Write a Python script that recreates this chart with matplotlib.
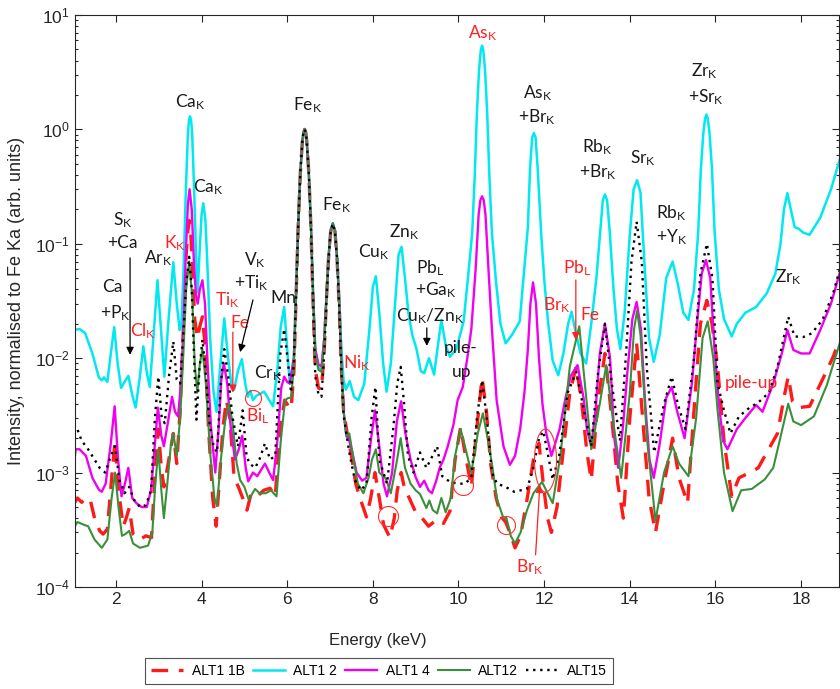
import numpy as np
import matplotlib
matplotlib.use('Agg')
import matplotlib.pyplot as plt

plt.rcParams['font.family'] = ['Liberation Sans', 'DejaVu Sans']

# spectra: (energy keV, intensity normalised to Fe Ka)
alt1_1b = [(1.00,0.00052),(1.10,0.0006),(1.20,0.00055),(1.30,0.0006),(1.40,0.00058),(1.50,0.0004),(1.62,0.00031),(1.70,0.00029),(1.80,0.00032),(1.90,0.0009),(1.98,0.0019),(2.06,0.0007),(2.17,0.00034),(2.24,0.0004),(2.31,0.00049),(2.40,0.00029),(2.56,0.00026),(2.70,0.00028),(2.83,0.00027),(2.92,0.0011),(2.99,0.0024),(3.06,0.0011),(3.12,0.00075),(3.22,0.0012),(3.34,0.0022),(3.42,0.0012),(3.50,0.0035),(3.57,0.017),(3.64,0.08),(3.68,0.13),(3.71,0.16),(3.745,0.13),(3.78,0.07),(3.84,0.022),(3.90,0.015),(3.96,0.019),(4.02,0.023),(4.09,0.012),(4.16,0.0025),(4.26,0.0006),(4.34,0.00034),(4.42,0.0009),(4.50,0.0025),(4.58,0.0043),(4.66,0.003),(4.76,0.0009),(4.86,0.00075),(4.96,0.0006),(5.06,0.00047),(5.16,0.00066),(5.30,0.00062),(5.45,0.0007),(5.60,0.00073),(5.72,0.00062),(5.84,0.0025),(5.94,0.0043),(6.03,0.0038),(6.09,0.0036),(6.155,0.0075),(6.205,0.032),(6.255,0.14),(6.305,0.41),(6.355,0.8),(6.38,0.95),(6.405,1.0),(6.43,0.95),(6.455,0.8),(6.505,0.41),(6.555,0.135),(6.605,0.03),(6.655,0.008),(6.73,0.0055),(6.80,0.0053),(6.865,0.012),(6.915,0.032),(6.965,0.075),(7.015,0.128),(7.065,0.15),(7.115,0.128),(7.165,0.072),(7.215,0.028),(7.265,0.008),(7.315,0.0035),(7.40,0.0022),(7.50,0.0014),(7.60,0.0008),(7.72,0.00057),(7.85,0.00041),(7.95,0.0006),(8.05,0.001),(8.15,0.0006),(8.25,0.00035),(8.40,0.00027),(8.50,0.0004),(8.57,0.0007),(8.66,0.001),(8.75,0.0007),(8.85,0.0006),(9.00,0.00045),(9.15,0.0004),(9.30,0.00034),(9.50,0.00039),(9.65,0.00036),(9.80,0.00046),(9.92,0.0013),(10.05,0.0025),(10.15,0.0015),(10.30,0.00075),(10.43,0.0025),(10.55,0.0067),(10.65,0.0035),(10.75,0.0012),(10.88,0.0006),(11.00,0.00041),(11.10,0.00037),(11.20,0.0003),(11.32,0.00022),(11.45,0.00028),(11.60,0.00058),(11.75,0.0013),(11.88,0.0018),(11.98,0.0008),(12.08,0.0004),(12.17,0.0003),(12.30,0.0005),(12.45,0.0016),(12.60,0.005),(12.75,0.0085),(12.88,0.004),(13.00,0.0015),(13.10,0.00086),(13.25,0.004),(13.42,0.011),(13.58,0.003),(13.72,0.0008),(13.85,0.0004),(14.00,0.003),(14.16,0.0135),(14.30,0.003),(14.45,0.0006),(14.60,0.0003),(14.80,0.0008),(15.00,0.002),(15.15,0.0009),(15.35,0.00054),(15.50,0.0035),(15.65,0.02),(15.80,0.032),(15.92,0.02),(16.05,0.0085),(16.20,0.0019),(16.38,0.00062),(16.55,0.0009),(16.80,0.001),(17.00,0.0011),(17.20,0.0015),(17.45,0.0022),(17.60,0.0045),(17.70,0.0069),(17.80,0.0042),(17.95,0.0037),(18.20,0.0038),(18.50,0.0065),(18.75,0.0103),(18.90,0.0145)]

alt1_2 = [(1.00,0.0176),(1.15,0.018),(1.28,0.0166),(1.45,0.011),(1.60,0.0068),(1.67,0.0064),(1.72,0.0068),(1.80,0.0062),(1.88,0.011),(1.96,0.0187),(2.04,0.009),(2.12,0.0055),(2.20,0.0062),(2.29,0.0070),(2.38,0.0048),(2.46,0.0037),(2.55,0.0065),(2.64,0.0127),(2.72,0.0075),(2.79,0.0056),(2.88,0.016),(2.97,0.048),(3.05,0.018),(3.13,0.0069),(3.23,0.022),(3.34,0.069),(3.42,0.03),(3.49,0.0176),(3.53,0.02),(3.58,0.06),(3.63,0.27),(3.68,0.92),(3.705,1.2),(3.73,1.3),(3.755,1.2),(3.78,0.92),(3.83,0.27),(3.87,0.08),(3.91,0.038),(3.95,0.08),(4.00,0.18),(4.04,0.226),(4.09,0.16),(4.14,0.06),(4.20,0.015),(4.28,0.005),(4.35,0.0034),(4.44,0.009),(4.53,0.0223),(4.62,0.01),(4.70,0.0058),(4.76,0.0053),(4.85,0.0078),(4.94,0.0098),(5.02,0.006),(5.08,0.0046),(5.14,0.0052),(5.20,0.0043),(5.28,0.0047),(5.38,0.0049),(5.46,0.0051),(5.58,0.0043),(5.67,0.0038),(5.77,0.008),(5.85,0.019),(5.93,0.028),(6.00,0.012),(6.06,0.006),(6.155,0.01),(6.205,0.035),(6.255,0.14),(6.305,0.41),(6.355,0.8),(6.38,0.95),(6.405,1.0),(6.43,0.95),(6.455,0.8),(6.505,0.41),(6.555,0.14),(6.605,0.036),(6.655,0.012),(6.73,0.0082),(6.80,0.0079),(6.865,0.0145),(6.915,0.034),(6.965,0.077),(7.015,0.13),(7.065,0.151),(7.115,0.13),(7.165,0.075),(7.215,0.032),(7.265,0.012),(7.315,0.0065),(7.37,0.0053),(7.46,0.0063),(7.56,0.0046),(7.66,0.0043),(7.80,0.006),(7.92,0.018),(8.00,0.042),(8.07,0.052),(8.15,0.025),(8.24,0.009),(8.32,0.0051),(8.42,0.009),(8.52,0.03),(8.60,0.08),(8.67,0.094),(8.75,0.05),(8.83,0.025),(8.92,0.016),(9.02,0.012),(9.12,0.0077),(9.20,0.0074),(9.31,0.0100),(9.43,0.0072),(9.52,0.013),(9.60,0.0216),(9.70,0.013),(9.80,0.0103),(9.95,0.012),(10.12,0.021),(10.22,0.05),(10.32,0.124),(10.38,0.4),(10.43,1.4),(10.48,3.3),(10.52,4.9),(10.55,5.4),(10.58,4.9),(10.62,3.3),(10.67,1.4),(10.72,0.4),(10.78,0.124),(10.88,0.045),(10.98,0.02),(11.10,0.0135),(11.25,0.016),(11.43,0.021),(11.55,0.07),(11.62,0.14),(11.67,0.45),(11.72,0.85),(11.76,0.93),(11.80,0.85),(11.85,0.45),(11.93,0.124),(12.00,0.05),(12.09,0.021),(12.20,0.0095),(12.33,0.0071),(12.45,0.011),(12.56,0.02),(12.64,0.0255),(12.72,0.018),(12.85,0.011),(12.98,0.009),(13.10,0.02),(13.22,0.05),(13.31,0.13),(13.37,0.24),(13.42,0.27),(13.47,0.24),(13.53,0.13),(13.62,0.04),(13.70,0.018),(13.78,0.012),(13.88,0.025),(14.00,0.12),(14.09,0.3),(14.17,0.36),(14.25,0.28),(14.35,0.06),(14.45,0.015),(14.56,0.0093),(14.70,0.016),(14.85,0.05),(15.00,0.07),(15.12,0.045),(15.25,0.025),(15.37,0.0216),(15.50,0.04),(15.60,0.13),(15.66,0.45),(15.72,0.95),(15.76,1.25),(15.79,1.35),(15.82,1.25),(15.86,0.95),(15.92,0.45),(15.98,0.13),(16.08,0.04),(16.20,0.022),(16.38,0.0155),(16.50,0.02),(16.70,0.025),(16.95,0.028),(17.20,0.037),(17.40,0.055),(17.52,0.1),(17.60,0.2),(17.68,0.277),(17.76,0.2),(17.85,0.14),(17.95,0.135),(18.05,0.125),(18.20,0.12),(18.45,0.17),(18.70,0.3),(18.90,0.54)]

alt1_4 = [(1.00,0.001),(1.06,0.0016),(1.15,0.0016),(1.30,0.0014),(1.45,0.0009),(1.60,0.00071),(1.67,0.00068),(1.76,0.0008),(1.88,0.0018),(1.97,0.0038),(2.05,0.0013),(2.13,0.00062),(2.21,0.0008),(2.29,0.0011),(2.38,0.0006),(2.48,0.00054),(2.60,0.0005),(2.72,0.0005),(2.82,0.0007),(2.90,0.0016),(2.98,0.0037),(3.06,0.0021),(3.12,0.0017),(3.21,0.0027),(3.31,0.0046),(3.38,0.0034),(3.45,0.0031),(3.52,0.006),(3.58,0.02),(3.63,0.08),(3.68,0.22),(3.72,0.3),(3.77,0.2),(3.82,0.07),(3.87,0.035),(3.91,0.03),(3.96,0.04),(4.02,0.048),(4.08,0.03),(4.14,0.009),(4.22,0.0025),(4.32,0.001),(4.40,0.0025),(4.46,0.0065),(4.52,0.009),(4.60,0.006),(4.68,0.0025),(4.78,0.0013),(4.87,0.0016),(4.95,0.0021),(5.03,0.0011),(5.09,0.00084),(5.20,0.001),(5.30,0.00093),(5.48,0.0012),(5.58,0.001),(5.67,0.00086),(5.76,0.0017),(5.86,0.0055),(5.93,0.0069),(6.00,0.0062),(6.06,0.006),(6.155,0.01),(6.205,0.035),(6.255,0.14),(6.305,0.41),(6.355,0.8),(6.38,0.95),(6.405,1.0),(6.43,0.95),(6.455,0.8),(6.505,0.41),(6.555,0.14),(6.605,0.036),(6.655,0.012),(6.73,0.0088),(6.80,0.0085),(6.865,0.015),(6.915,0.034),(6.965,0.077),(7.015,0.13),(7.065,0.15),(7.115,0.13),(7.165,0.075),(7.215,0.03),(7.265,0.009),(7.315,0.0035),(7.38,0.0021),(7.45,0.0019),(7.52,0.0015),(7.62,0.001),(7.75,0.00085),(7.85,0.0009),(7.96,0.002),(8.05,0.0035),(8.15,0.0017),(8.25,0.0008),(8.33,0.00062),(8.45,0.001),(8.56,0.0028),(8.66,0.0042),(8.76,0.0022),(8.88,0.0013),(9.00,0.00091),(9.10,0.00075),(9.20,0.00085),(9.30,0.0007),(9.38,0.00066),(9.48,0.00085),(9.56,0.0011),(9.65,0.0013),(9.75,0.0017),(9.88,0.0026),(9.98,0.0043),(10.10,0.0056),(10.20,0.0097),(10.30,0.018),(10.40,0.06),(10.47,0.18),(10.51,0.24),(10.55,0.26),(10.59,0.24),(10.63,0.18),(10.70,0.06),(10.78,0.018),(10.89,0.0043),(11.05,0.0017),(11.20,0.00117),(11.32,0.0014),(11.44,0.0024),(11.54,0.005),(11.62,0.012),(11.68,0.03),(11.74,0.046),(11.81,0.03),(11.88,0.01),(11.96,0.004),(12.05,0.0022),(12.17,0.0014),(12.36,0.0024),(12.50,0.0045),(12.62,0.007),(12.78,0.0087),(12.92,0.0045),(13.00,0.0024),(13.10,0.0017),(13.20,0.0035),(13.30,0.011),(13.42,0.02),(13.54,0.01),(13.64,0.002),(13.73,0.0011),(13.84,0.0025),(13.95,0.008),(14.06,0.022),(14.16,0.031),(14.26,0.018),(14.36,0.004),(14.46,0.0013),(14.56,0.0009),(14.70,0.0018),(14.85,0.0045),(14.98,0.0056),(15.10,0.0035),(15.28,0.002),(15.45,0.006),(15.58,0.022),(15.68,0.055),(15.78,0.072),(15.88,0.05),(15.98,0.012),(16.08,0.004),(16.18,0.0019),(16.28,0.0016),(16.50,0.0024),(16.70,0.003),(16.95,0.0039),(17.10,0.0034),(17.35,0.006),(17.55,0.011),(17.68,0.0177),(17.82,0.0118),(18.00,0.011),(18.20,0.011),(18.45,0.0177),(18.70,0.03),(18.90,0.055)]

alt12 = [(1.00,0.00032),(1.10,0.00037),(1.25,0.00035),(1.35,0.00034),(1.50,0.00026),(1.67,0.00022),(1.80,0.00026),(1.90,0.0006),(1.98,0.001),(2.06,0.0005),(2.14,0.00028),(2.22,0.00029),(2.31,0.00031),(2.40,0.00024),(2.56,0.00022),(2.75,0.00023),(2.85,0.0003),(2.92,0.0008),(2.99,0.0016),(3.06,0.0007),(3.12,0.0004),(3.20,0.0008),(3.28,0.0017),(3.34,0.0022),(3.42,0.0014),(3.50,0.003),(3.58,0.012),(3.64,0.04),(3.71,0.07),(3.78,0.035),(3.84,0.009),(3.90,0.005),(3.96,0.009),(4.02,0.012),(4.10,0.006),(4.20,0.0015),(4.30,0.0006),(4.36,0.00051),(4.45,0.0013),(4.55,0.0028),(4.64,0.004),(4.72,0.0028),(4.82,0.0012),(4.90,0.00086),(5.00,0.00075),(5.10,0.00058),(5.25,0.00072),(5.35,0.00066),(5.50,0.00066),(5.62,0.0007),(5.75,0.00062),(5.85,0.0019),(5.95,0.0043),(6.03,0.0045),(6.09,0.0045),(6.155,0.0085),(6.205,0.033),(6.255,0.14),(6.305,0.41),(6.355,0.8),(6.38,0.95),(6.405,1.0),(6.43,0.95),(6.455,0.8),(6.505,0.41),(6.555,0.14),(6.605,0.035),(6.655,0.011),(6.73,0.0079),(6.80,0.0076),(6.865,0.014),(6.915,0.034),(6.965,0.077),(7.015,0.13),(7.065,0.152),(7.115,0.13),(7.165,0.075),(7.215,0.03),(7.265,0.009),(7.315,0.0035),(7.38,0.0021),(7.45,0.0022),(7.55,0.0013),(7.65,0.0008),(7.78,0.00066),(7.90,0.0009),(7.98,0.0013),(8.07,0.0016),(8.15,0.001),(8.30,0.00089),(8.42,0.00066),(8.55,0.0012),(8.65,0.002),(8.75,0.0011),(8.88,0.0008),(9.00,0.0007),(9.10,0.00065),(9.25,0.00049),(9.32,0.00057),(9.40,0.00047),(9.50,0.00044),(9.60,0.0006),(9.70,0.00045),(9.82,0.0006),(9.92,0.0014),(10.05,0.0024),(10.15,0.0017),(10.30,0.001),(10.45,0.0022),(10.57,0.0033),(10.68,0.002),(10.78,0.0012),(10.90,0.00058),(11.05,0.0004),(11.12,0.0004),(11.22,0.00028),(11.32,0.00024),(11.45,0.0003),(11.60,0.00047),(11.75,0.00066),(11.95,0.00083),(12.20,0.00054),(12.38,0.0014),(12.60,0.0085),(12.82,0.019),(12.95,0.006),(13.10,0.0016),(13.30,0.004),(13.45,0.0087),(13.60,0.003),(13.80,0.0009),(14.00,0.005),(14.10,0.018),(14.17,0.026),(14.25,0.016),(14.40,0.002),(14.60,0.00038),(14.80,0.001),(15.00,0.0017),(15.15,0.0012),(15.37,0.00093),(15.55,0.003),(15.70,0.015),(15.82,0.021),(15.95,0.01),(16.05,0.0035),(16.20,0.001),(16.40,0.00046),(16.60,0.0007),(16.85,0.00072),(17.15,0.00087),(17.35,0.0011),(17.50,0.0019),(17.70,0.004),(17.82,0.0028),(18.00,0.0026),(18.30,0.0031),(18.60,0.0058),(18.90,0.0134)]

alt15 = [(1.00,0.0024),(1.08,0.0025),(1.20,0.0019),(1.35,0.0016),(1.50,0.0013),(1.62,0.0011),(1.75,0.001),(1.88,0.0014),(1.98,0.0017),(2.08,0.00086),(2.20,0.00066),(2.31,0.00075),(2.42,0.00058),(2.56,0.0005),(2.70,0.00052),(2.82,0.0007),(2.91,0.003),(2.99,0.0069),(3.07,0.003),(3.14,0.0027),(3.24,0.007),(3.34,0.014),(3.42,0.0065),(3.50,0.006),(3.58,0.018),(3.64,0.045),(3.71,0.077),(3.77,0.04),(3.83,0.009),(3.88,0.0029),(3.95,0.008),(4.02,0.0145),(4.09,0.008),(4.18,0.0028),(4.28,0.0017),(4.36,0.0015),(4.45,0.006),(4.53,0.012),(4.62,0.007),(4.72,0.0031),(4.85,0.0017),(4.96,0.0035),(5.05,0.0014),(5.12,0.0012),(5.25,0.0011),(5.35,0.0013),(5.48,0.0018),(5.60,0.0013),(5.72,0.0014),(5.84,0.011),(5.93,0.018),(6.02,0.009),(6.09,0.005),(6.155,0.009),(6.205,0.034),(6.255,0.14),(6.305,0.41),(6.355,0.8),(6.38,0.95),(6.405,1.0),(6.43,0.95),(6.455,0.8),(6.505,0.41),(6.555,0.135),(6.605,0.03),(6.655,0.007),(6.73,0.0048),(6.80,0.0046),(6.865,0.011),(6.915,0.031),(6.965,0.074),(7.015,0.128),(7.065,0.15),(7.115,0.128),(7.165,0.072),(7.215,0.028),(7.265,0.008),(7.315,0.0032),(7.38,0.0022),(7.45,0.0015),(7.58,0.00086),(7.72,0.0007),(7.85,0.0008),(7.97,0.003),(8.06,0.0056),(8.15,0.0013),(8.33,0.0008),(8.48,0.0025),(8.57,0.006),(8.65,0.0084),(8.73,0.004),(8.82,0.0014),(8.95,0.001),(9.10,0.0015),(9.25,0.0011),(9.35,0.0013),(9.50,0.0017),(9.62,0.00093),(9.80,0.00083),(10.00,0.0008),(10.15,0.0008),(10.30,0.0009),(10.43,0.003),(10.55,0.0064),(10.66,0.003),(10.78,0.001),(10.90,0.0008),(11.10,0.00075),(11.30,0.00068),(11.45,0.0007),(11.60,0.00072),(11.75,0.0011),(11.88,0.002),(11.98,0.0023),(12.08,0.0015),(12.20,0.00087),(12.35,0.0014),(12.55,0.005),(12.75,0.0076),(12.90,0.004),(13.10,0.0017),(13.25,0.007),(13.42,0.02),(13.58,0.006),(13.77,0.0019),(13.92,0.012),(14.04,0.07),(14.16,0.156),(14.28,0.07),(14.40,0.008),(14.57,0.0015),(14.80,0.004),(14.98,0.0069),(15.12,0.004),(15.30,0.0024),(15.50,0.01),(15.65,0.055),(15.80,0.1),(15.93,0.05),(16.05,0.006),(16.20,0.0035),(16.35,0.0022),(16.55,0.0031),(16.80,0.0037),(17.00,0.0041),(17.25,0.005),(17.45,0.0084),(17.70,0.023),(17.85,0.0155),(18.05,0.0153),(18.25,0.0165),(18.50,0.0216),(18.75,0.037),(18.90,0.059)]

series = [
    ('ALT1 1B', alt1_1b, dict(color='#ff1a1a', lw=2.4, ls=(0, (5, 3.2)))),
    ('ALT1 2', alt1_2, dict(color='#00e8f0', lw=1.8, ls='-')),
    ('ALT1 4', alt1_4, dict(color='#f000f0', lw=1.7, ls='-')),
    ('ALT12', alt12, dict(color='#3a8f3a', lw=1.5, ls='-')),
    ('ALT15', alt15, dict(color='black', lw=1.7, ls=(0, (1, 2.0)))),
]

# peak labels: (energy, intensity, text, colour)
labels = [
    (3.73, 1.74, r'$\mathregular{Ca_K}$', 'k'), (4.15, 0.31, r'$\mathregular{Ca_K}$', 'k'),
    (6.48, 1.63, r'$\mathregular{Fe_K}$', 'k'), (7.16, 0.218, r'$\mathregular{Fe_K}$', 'k'),
    (2.16, 0.161, r'$\mathregular{S_K}$', 'k'), (2.16, 0.102, '+Ca', 'k'),
    (1.91, 0.0419, 'Ca', 'k'), (1.98, 0.0248, r'$\mathregular{+P_K}$', 'k'),
    (2.98, 0.0752, r'$\mathregular{Ar_K}$', 'k'), (3.38, 0.102, r'$\mathregular{K_K}$', 'r'),
    (2.63, 0.0173, r'$\mathregular{Cl_K}$', 'r'), (4.59, 0.0323, r'$\mathregular{Ti_K}$', 'r'),
    (5.24, 0.0721, r'$\mathregular{V_K}$', 'k'), (5.17, 0.0454, r'$\mathregular{+Ti_K}$', 'k'),
    (5.9, 0.0336, 'Mn', 'k'), (4.89, 0.0203, 'Fe', 'r'),
    (5.55, 0.00743, r'$\mathregular{Cr_K}$', 'k'), (5.31, 0.00313, r'$\mathregular{Bi_L}$', 'r'),
    (8.02, 0.0847, r'$\mathregular{Cu_K}$', 'k'), (8.72, 0.127, r'$\mathregular{Zn_K}$', 'k'),
    (7.62, 0.00908, r'$\mathregular{Ni_K}$', 'r'),
    (9.33, 0.0614, r'$\mathregular{Pb_L}$', 'k'), (9.47, 0.0395, r'$\mathregular{+Ga_K}$', 'k'),
    (9.33, 0.0234, r'$\mathregular{Cu_K/Zn_K}$', 'k'),
    (10.05, 0.0123, 'pile-', 'k'), (10.07, 0.00757, 'up', 'k'),
    (10.57, 6.96, r'$\mathregular{As_K}$', 'r'),
    (11.85, 2.08, r'$\mathregular{As_K}$', 'k'), (11.83, 1.28, r'$\mathregular{+Br_K}$', 'k'),
    (12.29, 0.0292, r'$\mathregular{Br_K}$', 'r'), (12.76, 0.0614, r'$\mathregular{Pb_L}$', 'r'),
    (13.06, 0.0239, 'Fe', 'r'),
    (13.25, 0.701, r'$\mathregular{Rb_K}$', 'k'), (13.25, 0.425, r'$\mathregular{+Br_K}$', 'k'),
    (14.3, 0.562, r'$\mathregular{Sr_K}$', 'k'),
    (14.98, 0.186, r'$\mathregular{Rb_K}$', 'k'), (14.98, 0.115, r'$\mathregular{+Y_K}$', 'k'),
    (15.75, 3.24, r'$\mathregular{Zr_K}$', 'k'), (15.79, 1.92, r'$\mathregular{+Sr_K}$', 'k'),
    (17.7, 0.0513, r'$\mathregular{Zr_K}$', 'k'), (16.84, 0.00607, 'pile-up', 'r'),
    (11.66, 0.000150, r'$\mathregular{Br_K}$', 'r'),
]

# arrows: (tail, head, colour)
arrows = [
    ((2.33, 0.0752), (2.33, 0.0107), 'k'),
    ((5.2, 0.0323), (4.9, 0.0113), 'k'),
    ((4.73, 0.0169), (4.73, 0.0050), 'r'),
    ((9.26, 0.0184), (9.26, 0.0128), 'k'),
    ((12.74, 0.0483), (12.74, 0.0144), 'r'),
    ((11.80, 0.000191), (11.90, 0.00078), 'r'),
]

# red rings around weak features: (energy, intensity, width px, height px)
rings = [(5.2, 0.00449, 16, 16), (8.35, 0.000418, 20, 20), (10.1, 0.00078, 20, 20),
         (11.1, 0.000348, 18, 18), (12.01, 0.00129, 22, 63)]

fig = plt.figure(figsize=(8.4, 6.89), dpi=100)
ax = fig.add_axes([75/840, 1 - 587/689, 764/840, 572/689])

handles = []
for name, pts, style in series:
    e, v = np.array(pts).T
    ln, = ax.plot(e, v, label=name, solid_joinstyle='round', **style)
    handles.append(ln)

ax.set_yscale('log')
ax.set_xlim(1.044, 18.886)
ax.set_ylim(1e-4, 10)
ax.set_xticks([2, 4, 6, 8, 10, 12, 14, 16, 18])
ax.set_yticks([1e-4, 1e-3, 1e-2, 1e-1, 1, 10])
ax.tick_params(which='both', direction='in', top=True, right=True, colors='#262626',
               labelsize=12.5, width=0.8)
ax.tick_params(which='major', length=5)
ax.tick_params(which='minor', length=2.5)
for sp in ax.spines.values():
    sp.set_color('#262626')
    sp.set_linewidth(0.8)

ax.set_xlabel('Energy (keV)', fontsize=12, color='#262626')
ax.xaxis.set_label_coords((378 - 75) / 765, -(633 - 587) / 572)
ax.set_ylabel('Intensity, normalised to Fe Ka (arb. units)', fontsize=13, color='#262626')
ax.yaxis.set_label_coords(-(75 - 25) / 765, 0.5)

for e, v, s, c in labels:
    ax.text(e, v, s, color='#ff2020' if c == 'r' else '#1a1a1a', fontsize=12.5,
            family=['Lato', 'DejaVu Sans'], ha='center', va='center')

for tail, head, c in arrows:
    col = '#ff2020' if c == 'r' else 'black'
    ax.annotate('', xy=head, xytext=tail,
                arrowprops=dict(arrowstyle='-|>', color=col, lw=0.9, mutation_scale=11,
                                shrinkA=0, shrinkB=0))

t = np.linspace(0, 2 * np.pi, 60)
for e, v, w, h in rings:
    verts = np.column_stack([w / 2 * np.cos(t), h / 2 * np.sin(t)])
    ax.plot([e], [v], marker=verts, ms=max(w, h) / 1.389, mfc='none', mec='#ff3030',
            mew=0.8, ls='none')

leg = fig.legend(handles=handles, loc='center', ncol=5, bbox_to_anchor=(379 / 840, 1 - 671 / 689),
                 frameon=True, fancybox=False, edgecolor='#262626', fontsize=10,
                 handlelength=2.3, handletextpad=0.6, columnspacing=0.6, borderpad=0.45)
leg.get_frame().set_linewidth(0.8)

fig.savefig('out.png', dpi=100)
